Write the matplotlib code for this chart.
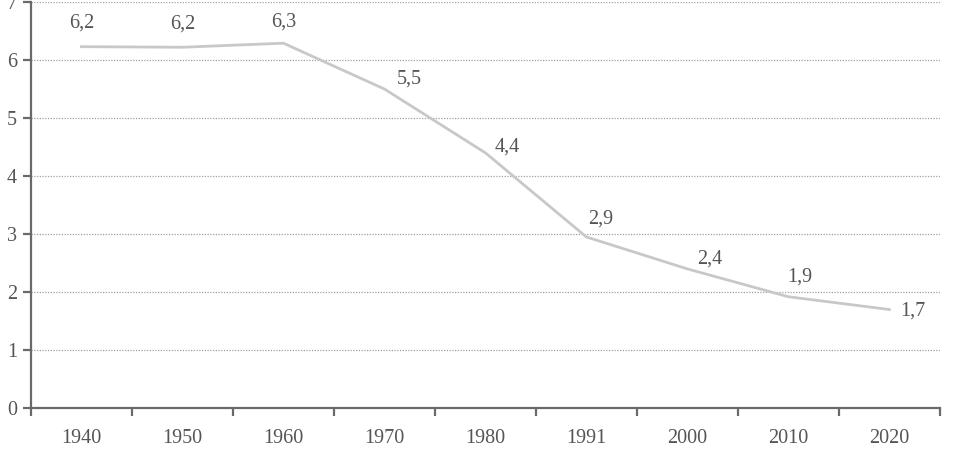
import matplotlib.pyplot as plt
import numpy as np

years = ["1940", "1950", "1960", "1970", "1980", "1991", "2000", "2010", "2020"]
values = [6.23, 6.22, 6.29, 5.5, 4.4, 2.95, 2.4, 1.92, 1.7]
labels = ["6,2", "6,2", "6,3", "5,5", "4,4", "2,9", "2,4", "1,9", "1,7"]
# label offsets in points (dx, dy)
offsets = [(0, 17), (0, 17), (0, 15), (18, 7), (16, 4), (10, 13), (16, 7), (8, 14), (17, -1)]

plt.rcParams['font.family'] = ['Liberation Serif', 'DejaVu Serif']

fig = plt.figure(figsize=(9.56, 4.54), dpi=100)
ax = fig.add_axes([0.0324, 0.101, 0.9507, 0.8946])

x = np.arange(len(years))
ax.plot(x, values, color='#c8c8c8', linewidth=2, solid_joinstyle='miter', zorder=3)

for xi, v, lab, (dx, dy) in zip(x, values, labels, offsets):
    ax.annotate(lab, (xi, v), xytext=(dx, dy), textcoords='offset points',
                ha='center', va='center', fontsize=14.5, color='#555555')

ax.set_xlim(-0.5, len(years) - 0.5)
ax.set_ylim(0, 7)
ax.set_yticks(range(8))
ax.set_xticks(x)
ax.set_xticklabels(years)
ax.set_xticks(np.arange(len(years) + 1) - 0.5, minor=True)

for yv in range(1, 8):
    ax.axhline(yv, color='#a0a0a0', linewidth=0.9, linestyle=(0, (1, 1.2)), zorder=1)

for s in ['top', 'right']:
    ax.spines[s].set_visible(False)
for s in ['left', 'bottom']:
    ax.spines[s].set_color('#6a6a6a')
    ax.spines[s].set_linewidth(1.6)

ax.tick_params(axis='x', which='major', length=0, pad=15, labelsize=14.5, labelcolor='#555555')
ax.tick_params(axis='x', which='minor', length=6, width=1.6, color='#6a6a6a', direction='out')
ax.tick_params(axis='y', length=6, width=1.6, color='#6a6a6a', pad=4, labelsize=14.5, labelcolor='#555555')

fig.savefig('out.png', dpi=100)
